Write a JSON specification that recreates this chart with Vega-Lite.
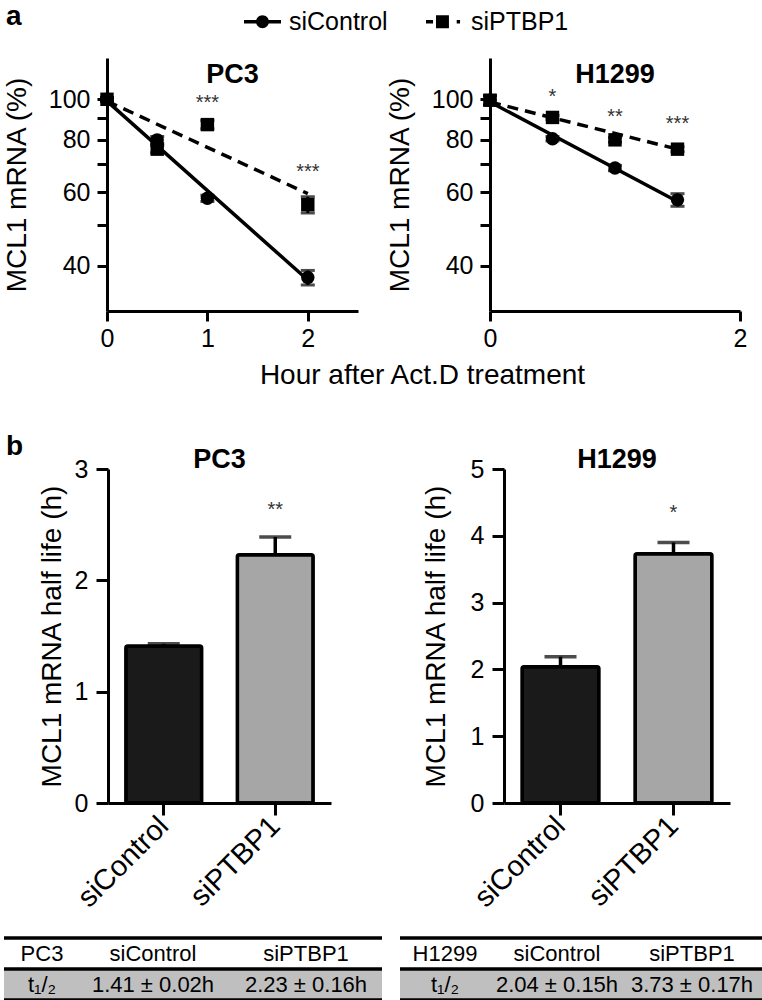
{
  "$schema": "https://vega.github.io/schema/vega-lite/v6.json",
  "background": "white",
  "padding": {"left": 2, "top": 3, "right": 0, "bottom": 0},
  "config": {
    "view": {"stroke": null},
    "font": "Liberation Sans",
    "axis": {"domainColor": "black", "domainWidth": 3, "tickColor": "black", "tickWidth": 3, "labelColor": "black", "titleColor": "black", "labelFont": "Liberation Sans", "titleFont": "Liberation Sans", "titleFontWeight": "normal", "grid": false, "labelFontSize": 25, "titleFontSize": 28},
    "title": {"font": "Liberation Sans", "fontSize": 27, "fontWeight": "bold", "color": "black"},
    "text": {"font": "Liberation Sans"}
  },
  "datasets": {
    "fit": [
      {"cell": "PC3", "series": "siControl", "hour": 0, "value": 99},
      {"cell": "PC3", "series": "siControl", "hour": 2, "value": 37},
      {"cell": "PC3", "series": "siPTBP1", "hour": 0, "value": 99},
      {"cell": "PC3", "series": "siPTBP1", "hour": 2, "value": 59.5},
      {"cell": "H1299", "series": "siControl", "hour": 0, "value": 98.5},
      {"cell": "H1299", "series": "siControl", "hour": 1.5, "value": 57},
      {"cell": "H1299", "series": "siPTBP1", "hour": 0, "value": 98.5},
      {"cell": "H1299", "series": "siPTBP1", "hour": 1.5, "value": 76}
    ],
    "pts": [
      {"cell": "PC3", "series": "siControl", "hour": 0, "value": 100, "lo": 99, "hi": 101},
      {"cell": "PC3", "series": "siControl", "hour": 0.5, "value": 80, "lo": 78.5, "hi": 81.5},
      {"cell": "PC3", "series": "siControl", "hour": 1, "value": 58, "lo": 57, "hi": 59},
      {"cell": "PC3", "series": "siControl", "hour": 2, "value": 37.5, "lo": 36, "hi": 39},
      {"cell": "PC3", "series": "siPTBP1", "hour": 0, "value": 100, "lo": 99, "hi": 101},
      {"cell": "PC3", "series": "siPTBP1", "hour": 0.5, "value": 76, "lo": 74.5, "hi": 77.5},
      {"cell": "PC3", "series": "siPTBP1", "hour": 1, "value": 87, "lo": 85, "hi": 89},
      {"cell": "PC3", "series": "siPTBP1", "hour": 2, "value": 56, "lo": 53.5, "hi": 58.5},
      {"cell": "H1299", "series": "siControl", "hour": 0, "value": 99.5, "lo": 97, "hi": 102},
      {"cell": "H1299", "series": "siControl", "hour": 0.5, "value": 80.5, "lo": 79.5, "hi": 81.5},
      {"cell": "H1299", "series": "siControl", "hour": 1, "value": 68.5, "lo": 67.5, "hi": 69.5},
      {"cell": "H1299", "series": "siControl", "hour": 1.5, "value": 57.5, "lo": 55.5, "hi": 59.5},
      {"cell": "H1299", "series": "siPTBP1", "hour": 0, "value": 99.5, "lo": 97, "hi": 102},
      {"cell": "H1299", "series": "siPTBP1", "hour": 0.5, "value": 90.5, "lo": 89.5, "hi": 91.5},
      {"cell": "H1299", "series": "siPTBP1", "hour": 1, "value": 80, "lo": 79, "hi": 81},
      {"cell": "H1299", "series": "siPTBP1", "hour": 1.5, "value": 76, "lo": 75, "hi": 77}
    ],
    "stars": [
      {"cell": "PC3", "hour": 1, "value": 100.5, "label": "***"},
      {"cell": "PC3", "hour": 2, "value": 69, "label": "***"},
      {"cell": "H1299", "hour": 0.5, "value": 104, "label": "*"},
      {"cell": "H1299", "hour": 1, "value": 93, "label": "**"},
      {"cell": "H1299", "hour": 1.5, "value": 89.5, "label": "***"}
    ],
    "bars": [
      {"cell": "PC3", "group": "siControl", "mean": 1.41, "hi": 1.43},
      {"cell": "PC3", "group": "siPTBP1", "mean": 2.23, "hi": 2.39},
      {"cell": "H1299", "group": "siControl", "mean": 2.04, "hi": 2.19},
      {"cell": "H1299", "group": "siPTBP1", "mean": 3.73, "hi": 3.9}
    ],
    "barstars": [
      {"cell": "PC3", "group": "siPTBP1", "value": 2.68, "label": "**"},
      {"cell": "H1299", "group": "siPTBP1", "value": 4.42, "label": "*"}
    ],
    "table": [
      {"table": "PC3", "row": "head", "ci": 0, "text": "PC3"},
      {"table": "PC3", "row": "head", "ci": 1, "text": "siControl"},
      {"table": "PC3", "row": "head", "ci": 2, "text": "siPTBP1"},
      {"table": "PC3", "row": "val", "ci": 0, "text": "t₁/₂"},
      {"table": "PC3", "row": "val", "ci": 1, "text": "1.41 ± 0.02h"},
      {"table": "PC3", "row": "val", "ci": 2, "text": "2.23 ± 0.16h"},
      {"table": "H1299", "row": "head", "ci": 0, "text": "H1299"},
      {"table": "H1299", "row": "head", "ci": 1, "text": "siControl"},
      {"table": "H1299", "row": "head", "ci": 2, "text": "siPTBP1"},
      {"table": "H1299", "row": "val", "ci": 0, "text": "t₁/₂"},
      {"table": "H1299", "row": "val", "ci": 1, "text": "2.04 ± 0.15h"},
      {"table": "H1299", "row": "val", "ci": 2, "text": "3.73 ± 0.17h"}
    ]
  },
  "spacing": 44,
  "vconcat": [
    {
      "bounds": "flush",
      "spacing": 83,
      "hconcat": [
        {"width": 20, "height": 10, "title": {"text": "a", "anchor": "start", "frame": "group", "fontSize": 28, "offset": 4, "baseline": "alphabetic", "dx": 2}, "data": {"values": [{}]}, "mark": {"type": "text"}},
        {
          "bounds": "flush",
          "spacing": 132,
          "hconcat": [
            {
              "width": 251, "height": 253,
              "title": {"text": "PC3", "offset": -52, "baseline": "alphabetic"},
              "encoding": {
                "x": {"field": "hour", "type": "quantitative", "scale": {"domain": [0, 2.5], "nice": false, "zero": false},
                  "axis": {"values": [0, 0.5, 1, 1.5, 2, 2.5], "labelExpr": "datum.value % 1 === 0 ? datum.label : ''", "format": "d", "tickSize": 10, "labelPadding": 5, "labelFlush": false, "labelOverlap": false, "title": "Hour after Act.D treatment", "titleX": 315, "titleY": 72, "titleAlign": "center", "titleBaseline": "alphabetic"}},
                "y": {"field": "value", "type": "quantitative", "scale": {"type": "log", "domain": [31.2, 125.5], "nice": false},
                  "axis": {"values": [40, 50, 60, 70, 80, 90, 100], "labelExpr": "datum.value === 40 || datum.value === 60 || datum.value === 80 || datum.value === 100 ? datum.label : ''", "format": "d", "tickSize": 10, "labelPadding": 7, "titlePadding": 17, "title": "MCL1 mRNA (%)", "labelOverlap": false, "labelFlush": false}}
              },
              "layer": [
                {"data": {"name": "fit"}, "transform": [{"filter": "datum.cell === 'PC3' && datum.series === 'siControl'"}], "mark": {"type": "line", "color": "black", "strokeWidth": 3.5}},
                {"data": {"name": "fit"}, "transform": [{"filter": "datum.cell === 'PC3' && datum.series === 'siPTBP1'"}], "mark": {"type": "line", "color": "black", "strokeWidth": 3.5, "strokeDash": [11, 7]}},
                {"data": {"name": "pts"}, "transform": [{"filter": "datum.cell === 'PC3'"}], "mark": {"type": "rule", "color": "black", "strokeWidth": 3},
                  "encoding": {"y": {"field": "lo", "type": "quantitative"}, "y2": {"field": "hi"}}},
                {"data": {"name": "pts"}, "transform": [{"filter": "datum.cell === 'PC3'"}], "mark": {"type": "tick", "orient": "horizontal", "color": "black", "size": 14, "thickness": 3},
                  "encoding": {"y": {"field": "lo", "type": "quantitative"}}},
                {"data": {"name": "pts"}, "transform": [{"filter": "datum.cell === 'PC3'"}], "mark": {"type": "tick", "orient": "horizontal", "color": "black", "size": 14, "thickness": 3},
                  "encoding": {"y": {"field": "hi", "type": "quantitative"}}},
                {"data": {"name": "pts"}, "transform": [{"filter": "datum.cell === 'PC3' && datum.series === 'siControl'"}], "mark": {"type": "point", "shape": "circle", "filled": true, "opacity": 1, "color": "black", "size": 180}},
                {"data": {"name": "pts"}, "transform": [{"filter": "datum.cell === 'PC3' && datum.series === 'siPTBP1'"}], "mark": {"type": "point", "shape": "square", "filled": true, "opacity": 1, "color": "black", "size": 180}},
                {"data": {"name": "pts"}, "transform": [{"filter": "datum.cell === 'PC3'"}], "mark": {"type": "point", "filled": true, "opacity": 0, "color": "black", "size": 1},
                  "encoding": {"shape": {"field": "series", "type": "nominal", "scale": {"domain": ["siControl", "siPTBP1"], "range": ["M-1,-0.1H1V0.1H-1ZM0.35,0A0.35,0.35,0,1,1,-0.35,0A0.35,0.35,0,1,1,0.35,0Z", "M-1,-0.1H-0.62V0.1H-1ZM-0.46,-0.35H0.24V0.35H-0.46ZM0.66,-0.09H0.84V0.09H0.66Z"]},
                    "legend": {"title": null, "orient": "none", "legendX": 240, "legendY": -55, "direction": "horizontal", "symbolSize": 1369, "symbolStrokeWidth": 0, "symbolFillColor": "black", "symbolOpacity": 1, "labelFontSize": 25, "labelFont": "Liberation Sans", "labelColor": "black", "labelOffset": 8, "columnPadding": 38, "padding": 0}}}},
                {"data": {"name": "stars"}, "transform": [{"filter": "datum.cell === 'PC3'"}], "mark": {"type": "text", "fontSize": 20, "color": "#333", "dy": 5},
                  "encoding": {"text": {"field": "label"}}}
              ]
            },
            {
              "width": 250, "height": 253,
              "title": {"text": "H1299", "offset": -52, "baseline": "alphabetic"},
              "encoding": {
                "x": {"field": "hour", "type": "quantitative", "scale": {"domain": [0, 2], "nice": false, "zero": false},
                  "axis": {"values": [0, 0.5, 1, 1.5, 2], "labelExpr": "datum.value % 1 === 0 ? datum.label : ''", "format": "d", "tickSize": 10, "labelPadding": 5, "labelFlush": false, "labelOverlap": false, "title": null}},
                "y": {"field": "value", "type": "quantitative", "scale": {"type": "log", "domain": [31.2, 125.5], "nice": false},
                  "axis": {"values": [40, 50, 60, 70, 80, 90, 100], "labelExpr": "datum.value === 40 || datum.value === 60 || datum.value === 80 || datum.value === 100 ? datum.label : ''", "format": "d", "tickSize": 10, "labelPadding": 7, "titlePadding": 17, "title": "MCL1 mRNA (%)", "labelOverlap": false, "labelFlush": false}}
              },
              "layer": [
                {"data": {"name": "fit"}, "transform": [{"filter": "datum.cell === 'H1299' && datum.series === 'siControl'"}], "mark": {"type": "line", "color": "black", "strokeWidth": 3.5}},
                {"data": {"name": "fit"}, "transform": [{"filter": "datum.cell === 'H1299' && datum.series === 'siPTBP1'"}], "mark": {"type": "line", "color": "black", "strokeWidth": 3.5, "strokeDash": [11, 7]}},
                {"data": {"name": "pts"}, "transform": [{"filter": "datum.cell === 'H1299'"}], "mark": {"type": "rule", "color": "black", "strokeWidth": 3},
                  "encoding": {"y": {"field": "lo", "type": "quantitative"}, "y2": {"field": "hi"}}},
                {"data": {"name": "pts"}, "transform": [{"filter": "datum.cell === 'H1299'"}], "mark": {"type": "tick", "orient": "horizontal", "color": "black", "size": 14, "thickness": 3},
                  "encoding": {"y": {"field": "lo", "type": "quantitative"}}},
                {"data": {"name": "pts"}, "transform": [{"filter": "datum.cell === 'H1299'"}], "mark": {"type": "tick", "orient": "horizontal", "color": "black", "size": 14, "thickness": 3},
                  "encoding": {"y": {"field": "hi", "type": "quantitative"}}},
                {"data": {"name": "pts"}, "transform": [{"filter": "datum.cell === 'H1299' && datum.series === 'siControl'"}], "mark": {"type": "point", "shape": "circle", "filled": true, "opacity": 1, "color": "black", "size": 180}},
                {"data": {"name": "pts"}, "transform": [{"filter": "datum.cell === 'H1299' && datum.series === 'siPTBP1'"}], "mark": {"type": "point", "shape": "square", "filled": true, "opacity": 1, "color": "black", "size": 180}},
                {"data": {"name": "pts"}, "transform": [{"filter": "datum.cell === 'H1299'"}], "mark": {"type": "point", "filled": true, "opacity": 0, "color": "black", "size": 1},
                  "encoding": {"shape": {"field": "series", "type": "nominal", "scale": {"domain": ["siControl", "siPTBP1"], "range": ["M-1,-0.1H1V0.1H-1ZM0.35,0A0.35,0.35,0,1,1,-0.35,0A0.35,0.35,0,1,1,0.35,0Z", "M-1,-0.1H-0.62V0.1H-1ZM-0.46,-0.35H0.24V0.35H-0.46ZM0.66,-0.09H0.84V0.09H0.66Z"]},
                    "legend": {"title": null, "orient": "none", "legendX": 240, "legendY": -55, "direction": "horizontal", "symbolSize": 1369, "symbolStrokeWidth": 0, "symbolFillColor": "black", "symbolOpacity": 1, "labelFontSize": 25, "labelFont": "Liberation Sans", "labelColor": "black", "labelOffset": 8, "columnPadding": 38, "padding": 0}}}},
                {"data": {"name": "stars"}, "transform": [{"filter": "datum.cell === 'H1299'"}], "mark": {"type": "text", "fontSize": 20, "color": "#333", "dy": 5},
                  "encoding": {"text": {"field": "label"}}}
              ]
            }
          ]
        }
      ]
    },
    {
      "spacing": 23,
      "vconcat": [
        {
          "bounds": "flush",
          "spacing": 84,
          "hconcat": [
            {"width": 20, "height": 10, "title": {"text": "b", "anchor": "start", "frame": "group", "fontSize": 28, "offset": -15, "baseline": "alphabetic", "dx": 2}, "data": {"values": [{}]}, "mark": {"type": "text"}},
            {
              "bounds": "flush",
              "spacing": 173,
              "hconcat": [
                {
                  "width": 223, "height": 334,
                  "title": {"text": "PC3", "offset": -38, "baseline": "alphabetic"},
                  "encoding": {
                    "x": {"field": "group", "type": "nominal", "scale": {"domain": ["siControl", "siPTBP1"], "paddingInner": 0.32, "paddingOuter": 0.16},
                      "axis": {"title": null, "labelAngle": -45, "labelAlign": "right", "labelBaseline": "middle", "tickSize": 12, "labelPadding": 6, "labelFontSize": 29}},
                    "y": {"field": "mean", "type": "quantitative", "scale": {"domain": [0, 3], "nice": false},
                      "axis": {"values": [0, 1, 2, 3], "tickSize": 12, "labelPadding": 8, "titlePadding": 8, "title": "MCL1 mRNA half life (h)"}}
                  },
                  "layer": [
                    {"data": {"name": "bars"}, "transform": [{"filter": "datum.cell === 'PC3'"}], "mark": {"type": "rule", "color": "black", "strokeWidth": 3.5}, "encoding": {"y2": {"field": "hi"}}},
                    {"data": {"name": "bars"}, "transform": [{"filter": "datum.cell === 'PC3'"}], "mark": {"type": "tick", "color": "black", "thickness": 3.5, "size": 32}, "encoding": {"y": {"field": "hi", "type": "quantitative"}}},
                    {"data": {"name": "bars"}, "transform": [{"filter": "datum.cell === 'PC3' && datum.group === 'siControl'"}], "mark": {"type": "bar", "fill": "#1a1a1a", "stroke": "black", "strokeWidth": 3.5, "cornerRadius": 2}},
                    {"data": {"name": "bars"}, "transform": [{"filter": "datum.cell === 'PC3' && datum.group === 'siPTBP1'"}], "mark": {"type": "bar", "fill": "#a6a6a6", "stroke": "black", "strokeWidth": 3.5, "cornerRadius": 2}},
                    {"data": {"name": "barstars"}, "transform": [{"filter": "datum.cell === 'PC3'"}], "mark": {"type": "text", "fontSize": 20, "color": "#333", "dy": 5},
                      "encoding": {"y": {"field": "value", "type": "quantitative"}, "text": {"field": "label"}}}
                  ]
                },
                {
                  "width": 226, "height": 334,
                  "title": {"text": "H1299", "offset": -38, "baseline": "alphabetic"},
                  "encoding": {
                    "x": {"field": "group", "type": "nominal", "scale": {"domain": ["siControl", "siPTBP1"], "paddingInner": 0.32, "paddingOuter": 0.16},
                      "axis": {"title": null, "labelAngle": -45, "labelAlign": "right", "labelBaseline": "middle", "tickSize": 12, "labelPadding": 6, "labelFontSize": 29}},
                    "y": {"field": "mean", "type": "quantitative", "scale": {"domain": [0, 5], "nice": false},
                      "axis": {"values": [0, 1, 2, 3, 4, 5], "tickSize": 12, "labelPadding": 8, "titlePadding": 20, "title": "MCL1 mRNA half life (h)"}}
                  },
                  "layer": [
                    {"data": {"name": "bars"}, "transform": [{"filter": "datum.cell === 'H1299'"}], "mark": {"type": "rule", "color": "black", "strokeWidth": 3.5}, "encoding": {"y2": {"field": "hi"}}},
                    {"data": {"name": "bars"}, "transform": [{"filter": "datum.cell === 'H1299'"}], "mark": {"type": "tick", "color": "black", "thickness": 3.5, "size": 32}, "encoding": {"y": {"field": "hi", "type": "quantitative"}}},
                    {"data": {"name": "bars"}, "transform": [{"filter": "datum.cell === 'H1299' && datum.group === 'siControl'"}], "mark": {"type": "bar", "fill": "#1a1a1a", "stroke": "black", "strokeWidth": 3.5, "cornerRadius": 2}},
                    {"data": {"name": "bars"}, "transform": [{"filter": "datum.cell === 'H1299' && datum.group === 'siPTBP1'"}], "mark": {"type": "bar", "fill": "#a6a6a6", "stroke": "black", "strokeWidth": 3.5, "cornerRadius": 2}},
                    {"data": {"name": "barstars"}, "transform": [{"filter": "datum.cell === 'H1299'"}], "mark": {"type": "text", "fontSize": 20, "color": "#333", "dy": 5},
                      "encoding": {"y": {"field": "value", "type": "quantitative"}, "text": {"field": "label"}}}
                  ]
                }
              ]
            }
          ]
        },
        {
          "bounds": "flush",
          "spacing": 18,
          "hconcat": [
            {
              "width": 378, "height": 62,
              "data": {"name": "table"},
              "transform": [{"filter": "datum.table === 'PC3'"}],
              "encoding": {"y": {"field": "row", "type": "ordinal", "scale": {"domain": ["head", "val"], "paddingInner": 0, "paddingOuter": 0}, "axis": null}},
              "layer": [
                {"transform": [{"filter": "datum.row === 'val' && datum.ci === 0"}], "mark": {"type": "rect", "color": "#bfbfbf"}},
                {"transform": [{"filter": "datum.ci === 0"}], "mark": {"type": "rule", "color": "black", "strokeWidth": 3.5}, "encoding": {"y": {"field": "row", "type": "ordinal", "bandPosition": 0}}},
                {"transform": [{"filter": "datum.row === 'val' && datum.ci === 0"}], "mark": {"type": "rule", "color": "black", "strokeWidth": 3.5}, "encoding": {"y": {"field": "row", "type": "ordinal", "bandPosition": 1}}},
                {"mark": {"type": "text", "font": "Liberation Sans", "fontSize": 22, "color": "black"},
                  "encoding": {"x": {"field": "ci", "type": "quantitative", "scale": {"domain": [0, 1, 2], "range": [38, 149, 302]}, "axis": null}, "text": {"field": "text"}}}
              ]
            },
            {
              "width": 363, "height": 62,
              "data": {"name": "table"},
              "transform": [{"filter": "datum.table === 'H1299'"}],
              "encoding": {"y": {"field": "row", "type": "ordinal", "scale": {"domain": ["head", "val"], "paddingInner": 0, "paddingOuter": 0}, "axis": null}},
              "layer": [
                {"transform": [{"filter": "datum.row === 'val' && datum.ci === 0"}], "mark": {"type": "rect", "color": "#bfbfbf"}},
                {"transform": [{"filter": "datum.ci === 0"}], "mark": {"type": "rule", "color": "black", "strokeWidth": 3.5}, "encoding": {"y": {"field": "row", "type": "ordinal", "bandPosition": 0}}},
                {"transform": [{"filter": "datum.row === 'val' && datum.ci === 0"}], "mark": {"type": "rule", "color": "black", "strokeWidth": 3.5}, "encoding": {"y": {"field": "row", "type": "ordinal", "bandPosition": 1}}},
                {"mark": {"type": "text", "font": "Liberation Sans", "fontSize": 22, "color": "black"},
                  "encoding": {"x": {"field": "ci", "type": "quantitative", "scale": {"domain": [0, 1, 2], "range": [45, 157, 292]}, "axis": null}, "text": {"field": "text"}}}
              ]
            }
          ]
        }
      ]
    }
  ]
}
